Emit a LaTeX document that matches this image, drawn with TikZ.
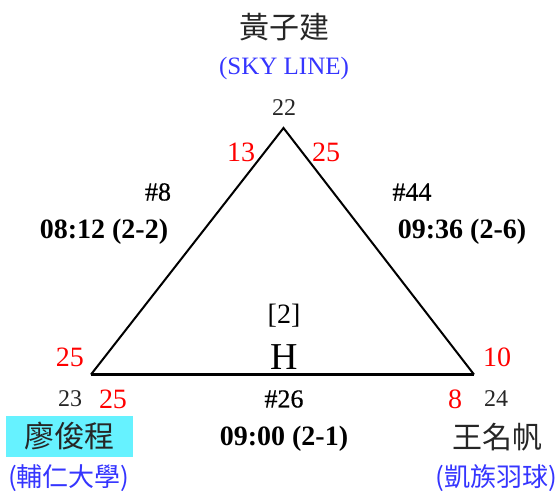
\documentclass[tikz,border=0pt]{standalone}
\usepackage{fontspec}
\setmainfont{Liberation Serif}
\newfontfamily\cjk{Noto Sans CJK TC}
\newfontfamily\midserif[FakeBold=0.5]{Liberation Serif}
\definecolor{boxcyan}{HTML}{66F2FF}
\definecolor{schoolblue}{HTML}{3535FF}
\begin{document}
\begin{tikzpicture}[x=1pt,y=-1pt,
  every node/.style={inner sep=0pt,anchor=center},
  seed/.style={font=\fontsize{24}{24}\selectfont, text=black!85},
  score/.style={font=\fontsize{28}{28}\selectfont, text=red},
  matchno/.style={font=\midserif\fontsize{26}{26}\selectfont},
  matchtime/.style={font=\bfseries\fontsize{28}{28}\selectfont},
  pname/.style={font=\cjk\fontsize{30}{30}\selectfont, text=black!85},
  school/.style={font=\cjk\fontsize{26}{26}\selectfont, text=schoolblue},
  side/.style={line width=2pt, line join=miter},
  base/.style={line width=3.3pt}]
\useasboundingbox (0,0) rectangle (558,493);
% triangle
\coordinate (T) at (283.5,128);
\coordinate (L) at (91,374.5);
\coordinate (R) at (474,374.5);
\draw[side] (L) -- (T) -- (R);
\draw[base] (L) -- (R);
% top player
\node[pname] (pA) at (284,27) {黃子建};
\node[school, font=\fontsize{25}{25}\selectfont] (sA) at (284,68) {(SKY LINE)};
\node[seed] (nA) at (284,108) {22};
\node[score] (a1) at (241,152) {13};
\node[score] (a2) at (326,152) {25};
% left match
\node[matchno] (m8) at (158,192) {\#8};
\node[matchtime] (t8) at (104,232) {08:12 (2-2)};
% right match
\node[matchno] (m44) at (412,192) {\#44};
\node[matchtime] (t44) at (462,232) {09:36 (2-6)};
% center
\node[font=\fontsize{28}{28}\selectfont] (grp) at (284,316) {[2]};
\node[font=\fontsize{38}{38}\selectfont] (H) at (284,357) {H};
% bottom match
\node[matchno] (m26) at (284,399) {\#26};
\node[matchtime] (t26) at (284,439) {09:00 (2-1)};
% left player
\node[score] (b1) at (70,357) {25};
\node[seed] (nB) at (70,399) {23};
\node[score] (b2) at (113,399) {25};
\node[pname, fill=boxcyan, minimum width=127pt, minimum height=41pt] (pB) at (69.5,436.5) {廖俊程};
\node[school] (sB) at (69,478) {(輔仁大學)};
% right player
\node[score] (c1) at (497,357) {10};
\node[score] (c2) at (455,399) {8};
\node[seed] (nC) at (496,399) {24};
\node[pname] (pC) at (497,437) {王名帆};
\node[school] (sC) at (496,478) {(凱族羽球)};
\end{tikzpicture}
\end{document}
